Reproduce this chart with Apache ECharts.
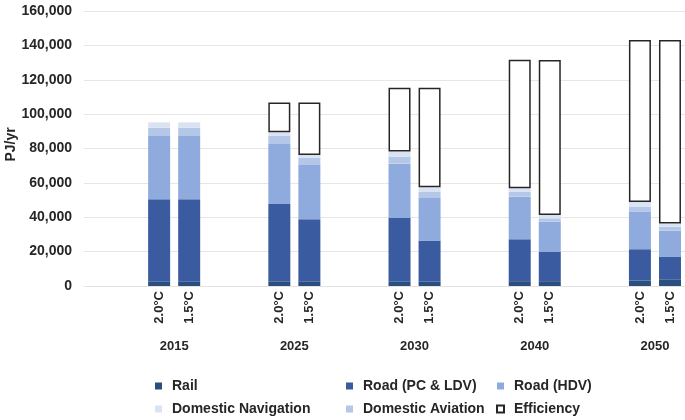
<!DOCTYPE html>
<html>
<head>
<meta charset="utf-8">
<title>Transport energy</title>
<script src="https://cdn.jsdelivr.net/npm/echarts@6/dist/echarts.min.js"></script>
</head>
<body style="margin:0">
<div id="main" style="width:685px;height:420px"></div>
<script>
// groups and scenarios
var years = ['2015', '2025', '2030', '2040', '2050'];
var scenarios = ['2.0°C', '1.5°C'];

// one value per bar: 2015 2.0, 2015 1.5, 2025 2.0, 2025 1.5, ...
var rail       = [2500, 2500, 2500, 2500, 2500, 2500, 2800, 2800, 3100, 3900];
var roadPC     = [48000, 48000, 45200, 36300, 37100, 23900, 24400, 17000, 18300, 13000];
var roadHDV    = [36800, 36800, 34900, 31600, 31600, 24800, 24800, 17600, 21700, 15300];
var aviation   = [4800, 4800, 4900, 4300, 4100, 3500, 2900, 2000, 3100, 2300];
var navigation = [3100, 3100, 1900, 1500, 2900, 2700, 2000, 1900, 2700, 1800];
var efficiency = [null, null, 17300, 30500, 37200, 58000, 74700, 90200, 94300, 106900];

var yTicks = { min: 0, max: 160000, interval: 20000 };

// category slots: two blanks, then 2 bars + 2 blanks per group
var slots = ['gap0', 'gap1'];
var slotBar = [-1, -1];
years.forEach(function (y, gi) {
  scenarios.forEach(function (s, si) {
    slots.push(y + ' ' + s);
    slotBar.push(gi * 2 + si);
  });
  if (gi < years.length - 1) {
    slots.push('gap' + slots.length, 'gap' + (slots.length + 1));
    slotBar.push(-1, -1);
  }
});
function spread(arr) {
  return slotBar.map(function (i) { return i < 0 ? null : arr[i]; });
}

// year axis: boundary positions between the two bars of each group
var yearSlots = [];
for (var k = 0; k <= slots.length; k++) {
  var g = (k - 3) / 4;
  yearSlots.push(k >= 3 && g === Math.floor(g) && years[g] ? years[g] : 'y' + k);
}

var font = 'Liberation Sans, Arial, sans-serif';
var txt = '#262626';

var chart = echarts.init(document.getElementById('main'));

function bar(name, data, color, extra) {
  var s = {
    name: name,
    type: 'bar',
    stack: 'total',
    barWidth: 22,
    data: spread(data),
    itemStyle: { color: color }
  };
  if (extra) s.itemStyle = extra;
  return s;
}

var legendBase = {
  orient: 'vertical',
  top: 378,
  padding: 0,
  icon: 'rect',
  itemWidth: 7,
  itemHeight: 7,
  itemGap: 7,
  selectedMode: false,
  textStyle: { fontFamily: font, fontWeight: 'bold', fontSize: 14, color: txt, lineHeight: 16, padding: [0, 0, 0, 5] }
};

chart.setOption({
  animation: false,
  grid: { left: 84, right: 0, top: 11, bottom: 134, outerBoundsMode: 'none' },
  legend: [
    Object.assign({ left: 155, data: ['Rail', 'Domestic Navigation'] }, legendBase),
    Object.assign({ left: 346, data: ['Road (PC & LDV)', 'Domestic Aviation'] }, legendBase),
    Object.assign({ left: 496, data: ['Road (HDV)', 'Efficiency'] }, legendBase)
  ],
  xAxis: [
    {
      type: 'category',
      data: slots,
      axisLine: { lineStyle: { color: '#e3e3e3' } },
      axisTick: { show: false },
      axisLabel: {
        interval: 0,
        rotate: 90,
        margin: 5,
        fontFamily: font,
        fontWeight: 'bold',
        fontSize: 13,
        color: txt,
        formatter: function (v) { return v.split(' ')[1] || ''; }
      }
    },
    {
      type: 'category',
      position: 'bottom',
      offset: 48,
      boundaryGap: false,
      data: yearSlots,
      axisLine: { show: false },
      axisTick: { show: false },
      axisLabel: {
        interval: 0,
        margin: 6,
        fontFamily: font,
        fontWeight: 'bold',
        fontSize: 13,
        color: txt,
        formatter: function (v) { return years.indexOf(v) >= 0 ? v : ''; }
      }
    }
  ],
  yAxis: {
    type: 'value',
    min: yTicks.min,
    max: yTicks.max,
    interval: yTicks.interval,
    name: 'PJ/yr',
    nameLocation: 'middle',
    nameMoveOverlap: false,
    nameGap: 66,
    nameRotate: 90,
    nameTextStyle: { fontFamily: font, fontWeight: 'bold', fontSize: 14, color: txt, padding: [0, 0, 0, 8] },
    axisLabel: {
      margin: 12,
      fontFamily: font,
      fontWeight: 'bold',
      fontSize: 14,
      color: txt,
      formatter: function (v) { return v.toLocaleString('en-US'); }
    },
    splitLine: { lineStyle: { color: '#e6e6e6' } }
  },
  series: [
    bar('Rail', rail, '#2a4e7e'),
    bar('Road (PC & LDV)', roadPC, '#3a5ba0'),
    bar('Road (HDV)', roadHDV, '#8faadc'),
    bar('Domestic Aviation', aviation, '#b4c7e7'),
    bar('Domestic Navigation', navigation, '#dae3f3'),
    bar('Efficiency', efficiency, null, { color: '#ffffff', borderColor: '#262626', borderWidth: 1.5 })
  ]
});
</script>
</body>
</html>
